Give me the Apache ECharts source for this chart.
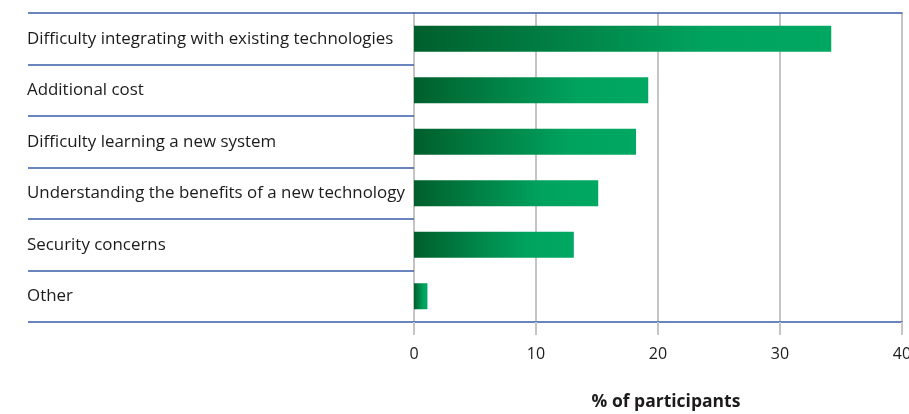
<!DOCTYPE html>
<html>
<head>
<meta charset="utf-8">
<script src="https://cdn.jsdelivr.net/npm/echarts@6/dist/echarts.min.js"></script>
<style>
  html, body { margin: 0; padding: 0; background: #fff; }
  #chart { width: 909px; height: 414px; }
</style>
</head>
<body>
<div id="chart"></div>
<script>
// Barriers to adopting new technology
const categories = [
  'Difficulty integrating with existing technologies',
  'Additional cost',
  'Difficulty learning a new system',
  'Understanding the benefits of a new technology',
  'Security concerns',
  'Other'
];
const values = [34.2, 19.2, 18.2, 15.1, 13.1, 1.1];
const xTicks = { min: 0, max: 40, interval: 10 };
const xTitle = '% of participants';

const FONT = '"Open Sans", "Noto Sans", sans-serif';
const BLUE = '#3a5ea8';
const GREY = '#c4c4c4';
const TEXT = '#1d1a1b';

const chart = echarts.init(document.getElementById('chart'));
chart.setOption({
  animation: false,
  grid: {
    left: 414, right: 7, top: 13, bottom: 92,
    containLabel: false,
    outerBoundsMode: 'none'
  },
  xAxis: [{
    type: 'value',
    position: 'bottom',
    min: xTicks.min, max: xTicks.max, interval: xTicks.interval,
    axisLine: { show: false },
    axisTick: { show: true, length: 13, lineStyle: { color: GREY, width: 2 } },
    splitLine: { show: true, lineStyle: { color: GREY, width: 2 } },
    axisLabel: { color: TEXT, fontFamily: FONT, fontSize: 16, margin: 24 },
    name: xTitle,
    nameLocation: 'middle',
    nameGap: 71,
    nameTextStyle: {
      color: TEXT, fontFamily: FONT, fontSize: 17.5, fontWeight: 'bold',
      padding: [0, 0, 0, 16]
    }
  }, {
    type: 'value',
    position: 'top',
    min: xTicks.min, max: xTicks.max,
    axisLine: { show: true, lineStyle: { color: BLUE, width: 1.5 } },
    axisTick: { show: false },
    axisLabel: { show: false },
    splitLine: { show: false }
  }, {
    type: 'value',
    position: 'bottom',
    min: xTicks.min, max: xTicks.max,
    axisLine: { show: true, lineStyle: { color: BLUE, width: 1.5 } },
    axisTick: { show: false },
    axisLabel: { show: false },
    splitLine: { show: false }
  }],
  yAxis: {
    type: 'category',
    data: categories,
    inverse: true,
    axisLine: { show: false },
    axisTick: { show: true, length: 386, lineStyle: { color: BLUE, width: 1.5 } },
    axisLabel: {
      align: 'left', margin: 387,
      color: TEXT, fontFamily: FONT, fontSize: 16.9
    },
    splitLine: { show: false }
  },
  series: [{
    type: 'bar',
    data: values,
    barWidth: 26,
    itemStyle: {
      color: new echarts.graphic.LinearGradient(0, 0, 1, 0, [
        { offset: 0, color: '#005f2c' },
        { offset: 0.7, color: '#00a35e' },
        { offset: 1, color: '#00a862' }
      ])
    }
  }]
});
</script>
</body>
</html>
